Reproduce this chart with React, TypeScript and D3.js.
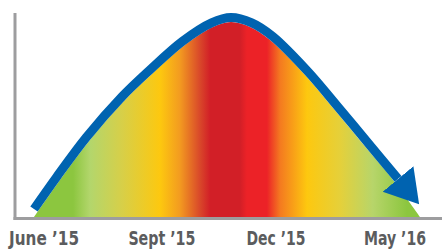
import * as d3 from "d3";

// bell curve (area top), x and y in chart units (0-100)
const areaX = [4.45, 10.54, 17.56, 25.76, 32.08, 39.81, 46.37, 50.59, 55.04, 59.72, 67.92, 74.47, 82.67, 88.52, 94.85];
const areaY = [0, 18.14, 37.75, 57.35, 70.1, 84.31, 93.14, 95.59, 93.14, 86.76, 69.61, 53.43, 32.84, 18.14, 0];

// blue trend line riding on top of the area
const lineX = [4.45, 9.7, 16.74, 25.01, 31.38, 39.2, 46.02, 50.59, 55.46, 60.37, 68.69, 75.29, 83.49, 89.7];
const lineY = [3.92, 19.46, 39.17, 58.92, 71.72, 86.13, 95.2, 97.79, 95.15, 88.48, 71.08, 54.85, 34.26, 18.63];

// x-axis labels and where they sit
const tickLabels = ["June \u201915", "Sept \u201915", "Dec \u201915", "May \u201916"];
const tickPos = [6.8, 34.4, 61.1, 89.0];
const tickWidth = [70, 67, 59, 62];

// gradient bands across x
const stopPos = [4.4, 13.6, 17.6, 25.3, 34.0, 38.6, 43.3, 45.7, 52.7, 54.3, 59.0, 62.1, 68.4, 76.1, 83.8, 91.8, 94.8];
const stopColor = ["#8cc63f", "#8cc63f", "#b3d66c", "#d8cf47", "#fdc80f", "#f39b20", "#d9482a", "#d21f27", "#d21f27",
  "#ec2227", "#ec2227", "#f47a20", "#fdc80f", "#e5d03a", "#b7d56a", "#8cc63f", "#8cc63f"];

const W = 442;
const H = 249;

export default function App() {
  const x = d3.scaleLinear().domain([0, 100]).range([15, 442]);
  const y = d3.scaleLinear().domain([0, 100]).range([217, 13]);

  const areaPts = areaX.map((v, i) => [v, areaY[i]] as [number, number]);
  const linePts = lineX.map((v, i) => [v, lineY[i]] as [number, number]);

  const area = d3
    .area<[number, number]>()
    .curve(d3.curveCatmullRom)
    .x((d) => x(d[0]))
    .y0(y(0))
    .y1((d) => y(d[1]));

  const line = d3
    .line<[number, number]>()
    .curve(d3.curveCatmullRom)
    .x((d) => x(d[0]))
    .y((d) => y(d[1]));

  const x0 = x(0);
  const base = y(0) + 1.5;

  return (
    <svg width={W} height={H} style={{ position: "absolute", left: 0, top: 0 }}>
      <defs>
        <linearGradient id="heat" gradientUnits="userSpaceOnUse" x1={x(0)} x2={x(100)} y1={0} y2={0}>
          {stopPos.map((p, i) => (
            <stop key={i} offset={p / 100} stopColor={stopColor[i]} />
          ))}
        </linearGradient>
        <marker id="head" markerUnits="userSpaceOnUse" markerWidth={40} markerHeight={44}
          refX={0} refY={22} orient="auto" viewBox="0 0 40 44">
          <path d="M0,2 L33,22 L0,42 Z" fill="#0063b0" />
        </marker>
      </defs>

      <path d={area(areaPts) ?? ""} fill="url(#heat)" />
      <path d={line(linePts) ?? ""} fill="none" stroke="#0063b0" strokeWidth={9} markerEnd="url(#head)" />

      <line x1={x0} x2={x0} y1={13} y2={base + 1.5} stroke="#9d9d9f" strokeWidth={3} />
      <line x1={x0 - 1.5} x2={W} y1={base} y2={base} stroke="#9d9d9f" strokeWidth={3} />

      {tickLabels.map((t, i) => (
        <text key={t} x={x(tickPos[i])} y={244.5} textAnchor="middle"
          textLength={tickWidth[i]} lengthAdjust="spacingAndGlyphs"
          fontFamily="'Liberation Sans Narrow', 'DejaVu Sans Condensed', Roboto, sans-serif"
          fontWeight="bold" fontSize={20} fill="#5b5c5e">
          {t}
        </text>
      ))}
    </svg>
  );
}
